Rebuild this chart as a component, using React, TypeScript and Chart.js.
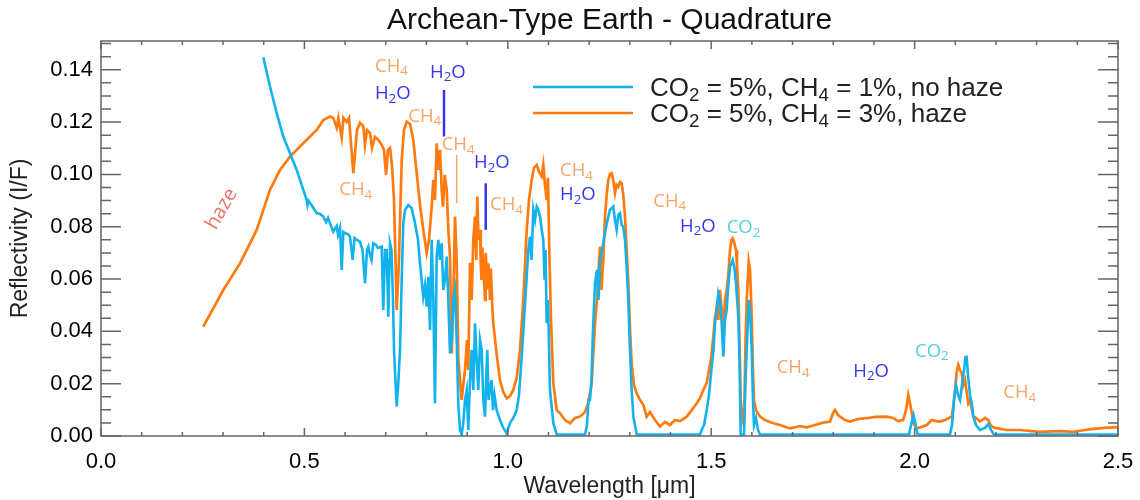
import React, { useEffect, useRef } from "react";
import { Chart, registerables } from "chart.js";

Chart.register(...registerables);

// ---------------- data ----------------
const seriesLabels = ["CO_2 = 5%, CH_4 = 1%, no haze", "CO_2 = 5%, CH_4 = 3%, haze"];

const noHazeWavelength = [
  0.399, 0.4154, 0.4319, 0.4481, 0.4646, 0.4811, 0.4973, 0.5057, 0.5076, 0.5101,
  0.5187, 0.5302, 0.5383, 0.5465, 0.5531, 0.5581, 0.5629, 0.571, 0.5794, 0.5826,
  0.5875, 0.5917, 0.5958, 0.5998, 0.6072, 0.6121, 0.6187, 0.6232, 0.6286, 0.6367,
  0.6429, 0.649, 0.6539, 0.6571, 0.6613, 0.665, 0.6694, 0.676, 0.6809, 0.69,
  0.6939, 0.6981, 0.7023, 0.7062, 0.7092, 0.7104, 0.7141, 0.7178, 0.7203, 0.7269,
  0.7313, 0.735, 0.7392, 0.7431, 0.7473, 0.7554, 0.7638, 0.7719, 0.7793, 0.7842,
  0.7923, 0.7965, 0.8006, 0.8046, 0.8088, 0.8129, 0.8169, 0.821, 0.8252, 0.8292,
  0.8333, 0.8375, 0.8414, 0.8456, 0.8498, 0.8538, 0.8579, 0.8621, 0.8661, 0.8702,
  0.8744, 0.8783, 0.8825, 0.8867, 0.8906, 0.8948, 0.899, 0.9029, 0.9071, 0.9112,
  0.9152, 0.9194, 0.9235, 0.9275, 0.9317, 0.9358, 0.9398, 0.944, 0.9476, 0.9496,
  0.9526, 0.9562, 0.9599, 0.9636, 0.9673, 0.9727, 0.9808, 0.9889, 0.9973, 1.0054,
  1.0135, 1.0219, 1.0275, 1.0342, 1.0398, 1.0465, 1.0505, 1.0546, 1.0583, 1.0627,
  1.0669, 1.0711, 1.0751, 1.0792, 1.0833, 1.0873, 1.0903, 1.0927, 1.0956, 1.0988,
  1.1037, 1.1119, 1.1202, 1.1898, 1.1947, 1.1984, 1.2021, 1.2058, 1.2094, 1.2144,
  1.2193, 1.223, 1.2267, 1.2316, 1.2389, 1.2451, 1.2512, 1.2593, 1.2635, 1.2676,
  1.2716, 1.2758, 1.28, 1.2839, 1.2881, 1.2922, 1.2963, 1.3004, 1.3045, 1.3086,
  1.3169, 1.4725, 1.4766, 1.4823, 1.489, 1.4946, 1.5012, 1.5057, 1.5093, 1.5135,
  1.5175, 1.5216, 1.5253, 1.5298, 1.5339, 1.5381, 1.5421, 1.5462, 1.5528, 1.5572,
  1.561, 1.5666, 1.5696, 1.5725, 1.5806, 1.5844, 1.5873, 1.5922, 1.5954, 1.5996,
  1.6027, 1.6052, 1.6101, 1.615, 1.6199, 1.9862, 1.9912, 1.9975, 2.0025, 2.0074,
  2.087, 2.0919, 2.0968, 2.1017, 2.1066, 2.1116, 2.1165, 2.1214, 2.1251, 2.128,
  2.1312, 2.1362, 2.1411, 2.1443, 2.151, 2.1608, 2.1731, 2.1812, 2.1878, 2.1952,
  2.5,
];
const noHazeReflectivity = [
  0.1448, 0.1336, 0.1234, 0.1145, 0.1081, 0.1017, 0.0941, 0.0902, 0.0883, 0.0899,
  0.088, 0.0852, 0.0849, 0.0839, 0.0818, 0.0834, 0.0813, 0.0781, 0.0803, 0.0769,
  0.0795, 0.0635, 0.078, 0.0775, 0.0772, 0.0762, 0.0673, 0.0757, 0.075, 0.0742,
  0.0711, 0.0584, 0.0711, 0.0724, 0.0692, 0.0673, 0.0737, 0.073, 0.0719, 0.0724,
  0.0482, 0.0711, 0.0711, 0.0456, 0.0673, 0.0737, 0.0711, 0.052, 0.0329, 0.0112,
  0.0214, 0.0329, 0.0597, 0.0813, 0.0864, 0.0883, 0.0871, 0.0813, 0.075, 0.066,
  0.0533, 0.0577, 0.0494, 0.0609, 0.0405, 0.075, 0.052, 0.0125, 0.0686, 0.075,
  0.0673, 0.0737, 0.0558, 0.0597, 0.0686, 0.052, 0.0316, 0.0367, 0.052, 0.0558,
  0.0367, 0.0125, 0.0023, 0.0006, 0.0049, 0.0138, 0.0176, 0.0023, 0.0214, 0.0329,
  0.0176, 0.0431, 0.0291, 0.0176, 0.0367, 0.0329, 0.0138, 0.0074, 0.0252, 0.0329,
  0.0138, 0.0176, 0.0214, 0.0099, 0.0157, 0.0099, 0.0061, 0.0031, 0.0011, 0.0049,
  0.0069, 0.0099, 0.0157, 0.0303, 0.0444, 0.0609, 0.0711, 0.0762, 0.0673, 0.0864,
  0.0826, 0.0877, 0.0864, 0.0839, 0.0788, 0.075, 0.0597, 0.0711, 0.0431, 0.052,
  0.0176, 0.0049, 0.0006, 0.0006, 0.0042, 0.0138, 0.0138, 0.0214, 0.0405, 0.0584,
  0.0635, 0.052, 0.0673, 0.0711, 0.0775, 0.0826, 0.0864, 0.0877, 0.0826, 0.0788,
  0.0845, 0.0852, 0.0807, 0.08, 0.075, 0.0647, 0.052, 0.0329, 0.0176, 0.0074,
  0.0006, 0.0006, 0.0023, 0.0042, 0.0099, 0.0157, 0.0265, 0.0329, 0.0431, 0.0482,
  0.0546, 0.052, 0.0444, 0.0303, 0.0444, 0.0482, 0.0577, 0.0647, 0.0673, 0.0642,
  0.0584, 0.0456, 0.0291, 0.0006, 0.0006, 0.0214, 0.0329, 0.052, 0.0482, 0.0329,
  0.0138, 0.0042, 0.0069, 0.0023, 0.0006, 0.0006, 0.0042, 0.008, 0.0042, 0.0006,
  0.0006, 0.0042, 0.0138, 0.0195, 0.0157, 0.0138, 0.0195, 0.0252, 0.0302, 0.0303,
  0.0233, 0.0157, 0.0119, 0.0074, 0.0042, 0.0023, 0.0031, 0.0046, 0.0023, 0.0006,
  0.0006,
];

const hazeWavelength = [
  0.2515, 0.3006, 0.3417, 0.3827, 0.4154, 0.44, 0.4646, 0.4973, 0.5302, 0.5465,
  0.5629, 0.571, 0.5794, 0.5834, 0.5917, 0.5958, 0.604, 0.6096, 0.6202, 0.6293,
  0.6367, 0.6448, 0.649, 0.6539, 0.6613, 0.6662, 0.6736, 0.6817, 0.69, 0.6957,
  0.7006, 0.7055, 0.7104, 0.7153, 0.7203, 0.7269, 0.7325, 0.7392, 0.7448, 0.7515,
  0.7596, 0.7677, 0.776, 0.7842, 0.7923, 0.8006, 0.8063, 0.8129, 0.8169, 0.821,
  0.8252, 0.8292, 0.8333, 0.8375, 0.8407, 0.8449, 0.8498, 0.8538, 0.8579, 0.8621,
  0.8661, 0.8702, 0.8744, 0.8783, 0.8825, 0.8867, 0.8906, 0.8948, 0.8997, 0.9029,
  0.9071, 0.9112, 0.9152, 0.9194, 0.9226, 0.925, 0.928, 0.9317, 0.9335, 0.9353, 0.9375, 0.9398,
  0.942, 0.944, 0.9458, 0.9476, 0.9498, 0.9521, 0.954, 0.9562, 0.9583, 0.9604, 0.9623, 0.9643, 0.9727, 0.9808, 0.9889, 0.9973,
  1.0054, 1.0135, 1.0219, 1.03, 1.0381, 1.0465, 1.0521, 1.0588, 1.0644, 1.0711,
  1.0767, 1.0833, 1.0873, 1.0914, 1.0956, 1.0988, 1.1025, 1.1062, 1.1119, 1.1202,
  1.1283, 1.1406, 1.1529, 1.1652, 1.1775, 1.1898, 1.1972, 1.2062, 1.2094, 1.2144,
  1.2193, 1.223, 1.2267, 1.2303, 1.2348, 1.2389, 1.2431, 1.2471, 1.2512, 1.2554,
  1.2593, 1.2635, 1.2676, 1.2716, 1.2758, 1.28, 1.2839, 1.2881, 1.2922, 1.2963,
  1.3004, 1.3045, 1.3102, 1.3169, 1.325, 1.3331, 1.3414, 1.3496, 1.3618, 1.3741,
  1.3864, 1.3987, 1.411, 1.4233, 1.4398, 1.4521, 1.4644, 1.4725, 1.4806, 1.489,
  1.4946, 1.4995, 1.5052, 1.5093, 1.5135, 1.5175, 1.5216, 1.5258, 1.5298, 1.5339,
  1.5381, 1.5421, 1.5462, 1.5499, 1.5528, 1.5561, 1.561, 1.5634, 1.5666, 1.5696,
  1.5725, 1.5757, 1.579, 1.5819, 1.5844, 1.5873, 1.5922, 1.5954, 1.5996, 1.6027,
  1.6052, 1.6101, 1.6199, 1.6322, 1.6527, 1.6691, 1.6937, 1.7183, 1.7347, 1.7552,
  1.7724, 1.792, 1.7994, 1.8043, 1.8117, 1.8166, 1.8289, 1.8412, 1.8609, 1.8822,
  1.9026, 1.9314, 1.9469, 1.9592, 1.9715, 1.9789, 1.9845, 1.9904, 1.9971, 2.0054,
  2.016, 2.0298, 2.0421, 2.0527, 2.0624, 2.0747, 2.0912, 2.0956, 2.0993, 2.1035,
  2.1074, 2.1116, 2.1158, 2.1197, 2.1239, 2.128, 2.1321, 2.1362, 2.1443, 2.151,
  2.1608, 2.1731, 2.1812, 2.1878, 2.1976, 2.2264, 2.2591, 2.3083, 2.3574, 2.3901,
  2.4189, 2.4393, 2.468, 2.4885, 2.5,
];
const hazeReflectivity = [
  0.0418, 0.0558, 0.066, 0.0788, 0.0941, 0.1017, 0.1068, 0.1119, 0.117, 0.1208,
  0.1221, 0.1216, 0.1178, 0.1216, 0.114, 0.1216, 0.1201, 0.1216, 0.1005, 0.117,
  0.1197, 0.1185, 0.1113, 0.117, 0.1159, 0.1101, 0.1143, 0.1132, 0.1113, 0.1094,
  0.0998, 0.1094, 0.1101, 0.1036, 0.0902, 0.0482, 0.0673, 0.1055, 0.117, 0.1202,
  0.1193, 0.1132, 0.1005, 0.0883, 0.0788, 0.0699, 0.075, 0.0877, 0.0979, 0.0902,
  0.1119, 0.1017, 0.1094, 0.0941, 0.0877, 0.0998, 0.0941, 0.0788, 0.0686, 0.0316,
  0.052, 0.0839, 0.0673, 0.0303, 0.0214, 0.0138, 0.0195, 0.0252, 0.0367, 0.0252,
  0.0662, 0.052, 0.075, 0.0839, 0.0673, 0.0915, 0.075, 0.0788, 0.066, 0.0597, 0.072, 0.0647,
  0.058, 0.052, 0.07, 0.0635, 0.056, 0.066, 0.061, 0.052, 0.064, 0.0558, 0.048, 0.0431, 0.031, 0.0214, 0.0168, 0.0144,
  0.0153, 0.0176, 0.0222, 0.0329, 0.052, 0.0788, 0.0902, 0.0979, 0.1025, 0.1036,
  0.101, 0.0992, 0.1036, 0.096, 0.0902, 0.0987, 0.0673, 0.0444, 0.0202, 0.0099,
  0.0087, 0.0061, 0.0049, 0.0069, 0.0074, 0.0092, 0.0122, 0.0202, 0.0291, 0.0431,
  0.052, 0.0635, 0.0724, 0.0558, 0.0673, 0.0839, 0.0922, 0.0979, 0.1002, 0.1005,
  0.0979, 0.0928, 0.096, 0.0953, 0.0971, 0.0966, 0.0922, 0.0839, 0.0711, 0.0584,
  0.0405, 0.0278, 0.0195, 0.0163, 0.0138, 0.0119, 0.0074, 0.0092, 0.0061, 0.0036,
  0.0054, 0.0042, 0.0061, 0.0057, 0.0074, 0.0099, 0.0125, 0.0145, 0.0176, 0.0202,
  0.0252, 0.0291, 0.038, 0.0451, 0.0494, 0.0444, 0.0558, 0.0482, 0.038, 0.052,
  0.0558, 0.0616, 0.0711, 0.075, 0.0756, 0.0742, 0.0711, 0.0654, 0.0558, 0.0367,
  0.0138, 0.0069, 0.0049, 0.0138, 0.0367, 0.052, 0.0667, 0.0635, 0.0456, 0.0252,
  0.0138, 0.0099, 0.0074, 0.0061, 0.0049, 0.0042, 0.0029, 0.0038, 0.0033, 0.0042,
  0.005, 0.0055, 0.0088, 0.0099, 0.008, 0.0074, 0.0061, 0.0055, 0.0065, 0.0068,
  0.0073, 0.0074, 0.0069, 0.0057, 0.0061, 0.0099, 0.0157, 0.0112, 0.0049, 0.0029,
  0.0034, 0.0042, 0.0061, 0.0057, 0.0055, 0.0061, 0.0074, 0.0119, 0.0176, 0.0245,
  0.0272, 0.0252, 0.024, 0.0195, 0.0214, 0.0168, 0.0125, 0.0138, 0.0074, 0.0069,
  0.0055, 0.0069, 0.0061, 0.0038, 0.0031, 0.0023, 0.0023, 0.0016, 0.0019, 0.0016,
  0.0023, 0.0027, 0.0031, 0.0033, 0.0034,
];

const xTickValues = [0, 0.5, 1.0, 1.5, 2.0, 2.5];
const yTickValues = [0, 0.02, 0.04, 0.06, 0.08, 0.1, 0.12, 0.14];

const titleText = "Archean-Type Earth - Quadrature";
const xTitle = "Wavelength [μm]";
const yTitle = "Reflectivity (I/F)";

// molecule labels (wavelength, reflectivity at text baseline-left)
const labelTexts = ["CH_4", "H_2O", "H_2O", "CH_4", "CH_4", "H_2O", "CH_4", "CH_4", "CH_4", "H_2O", "CH_4", "H_2O", "CO_2", "CH_4", "H_2O", "CO_2", "CH_4"];
const labelKinds = ["ch4", "h2o", "h2o", "ch4", "ch4", "h2o", "ch4", "ch4", "ch4", "h2o", "ch4", "h2o", "co2", "ch4", "h2o", "co2", "ch4"];
const labelX = [0.6735, 0.6735, 0.8088, 0.7554, 0.8375, 0.9169, 0.9562, 0.5858, 1.1283, 1.1283, 1.3577, 1.4233, 1.5381, 1.661, 1.8493, 2.001, 2.218];
const labelY = [0.1393, 0.1288, 0.137, 0.1202, 0.1094, 0.1024, 0.0864, 0.0922, 0.0994, 0.0902, 0.0877, 0.0781, 0.0775, 0.024, 0.0227, 0.0303, 0.0144];

// band marker ticks: wavelength, top and bottom reflectivity
const markerKinds = ["h2o", "ch4", "h2o"];
const markerX = [0.8432, 0.8744, 0.9457];
const markerTop = [0.1323, 0.1075, 0.0966];
const markerBottom = [0.1145, 0.089, 0.0788];

const hazeLabel = "haze";
const hazeLabelAt = [0.2967, 0.0868];

// ---------------- styles ----------------
const CYAN = "#12b2ee";
const ORANGE = "#ff7b10";
const KIND_COLORS: Record<string, string> = {
  ch4: "#f8a466",
  h2o: "#3535f0",
  co2: "#52d0d6",
};
const HAZE_COLOR = "#ea7560";
const AXIS_COLOR = "#666666";
const FONT = "'Liberation Sans', Arial, Helvetica, sans-serif";
const ANNOT_FONT = "'Open Sans', 'Noto Sans', sans-serif";

type Seg = { t: string; sub: boolean };
function parseSub(text: string): Seg[] {
  const segs: Seg[] = [];
  let buf = "";
  for (let i = 0; i < text.length; i++) {
    if (text[i] === "_" && i + 1 < text.length) {
      if (buf) {
        segs.push({ t: buf, sub: false });
        buf = "";
      }
      segs.push({ t: text[i + 1], sub: true });
      i++;
    } else {
      buf += text[i];
    }
  }
  if (buf) segs.push({ t: buf, sub: false });
  return segs;
}

function drawRich(ctx: CanvasRenderingContext2D, text: string, x: number, y: number, size: number, family: string, color: string) {
  ctx.save();
  ctx.fillStyle = color;
  ctx.textAlign = "left";
  ctx.textBaseline = "alphabetic";
  let cx = x;
  for (const s of parseSub(text)) {
    const fs = s.sub ? size * 0.72 : size;
    ctx.font = `${fs}px ${family}`;
    ctx.fillText(s.t, cx, s.sub ? y + size * 0.2 : y);
    cx += ctx.measureText(s.t).width;
  }
  ctx.restore();
  return cx - x;
}

const framePlugin = {
  id: "idlFrame",
  afterDatasetsDraw(chart: any) {
    const { ctx, chartArea: a, scales } = chart;
    const xs = scales.x;
    const ys = scales.y;
    ctx.save();

    // box
    ctx.strokeStyle = AXIS_COLOR;
    ctx.lineWidth = 1.5;
    ctx.strokeRect(a.left, a.top, a.right - a.left, a.bottom - a.top);

    // inward ticks
    ctx.beginPath();
    for (let i = 0; i <= 25; i++) {
      const px = xs.getPixelForValue(i / 10);
      const len = i % 5 === 0 ? 8 : 4;
      ctx.moveTo(px, a.bottom);
      ctx.lineTo(px, a.bottom - len);
      ctx.moveTo(px, a.top);
      ctx.lineTo(px, a.top + len);
    }
    for (let i = 0; i * 0.005 <= ys.max + 1e-9; i++) {
      const py = ys.getPixelForValue(i * 0.005);
      const len = i % 4 === 0 ? 20 : 10;
      ctx.moveTo(a.left, py);
      ctx.lineTo(a.left + len, py);
      ctx.moveTo(a.right, py);
      ctx.lineTo(a.right - len, py);
    }
    ctx.stroke();

    // title
    ctx.fillStyle = "#111";
    ctx.font = `30px ${FONT}`;
    ctx.textAlign = "center";
    ctx.textBaseline = "middle";
    ctx.fillText(titleText, (a.left + a.right) / 2, 21);

    // band markers
    for (let i = 0; i < markerX.length; i++) {
      ctx.beginPath();
      ctx.strokeStyle = KIND_COLORS[markerKinds[i]];
      ctx.lineWidth = markerKinds[i] === "h2o" ? 2.5 : 1.5;
      const px = xs.getPixelForValue(markerX[i]);
      ctx.moveTo(px, ys.getPixelForValue(markerTop[i]));
      ctx.lineTo(px, ys.getPixelForValue(markerBottom[i]));
      ctx.stroke();
    }

    // molecule labels
    for (let i = 0; i < labelTexts.length; i++) {
      drawRich(ctx, labelTexts[i], xs.getPixelForValue(labelX[i]), ys.getPixelForValue(labelY[i]), 18.5, ANNOT_FONT, KIND_COLORS[labelKinds[i]]);
    }

    // haze label
    ctx.save();
    ctx.translate(xs.getPixelForValue(hazeLabelAt[0]), ys.getPixelForValue(hazeLabelAt[1]));
    ctx.rotate(-Math.PI / 3);
    ctx.fillStyle = HAZE_COLOR;
    ctx.font = `20px ${ANNOT_FONT}`;
    ctx.textAlign = "center";
    ctx.textBaseline = "middle";
    ctx.fillText(hazeLabel, 0, 0);
    ctx.restore();

    // legend
    const colors = [CYAN, ORANGE];
    for (let i = 0; i < seriesLabels.length; i++) {
      const ly = 87 + i * 26;
      ctx.beginPath();
      ctx.strokeStyle = colors[i];
      ctx.lineWidth = 2.4;
      ctx.moveTo(533, ly);
      ctx.lineTo(633, ly);
      ctx.stroke();
      drawRich(ctx, seriesLabels[i], 650, ly + 8.5, 26, FONT, "#222");
    }

    ctx.restore();
  },
};

export default function App() {
  const canvasRef = useRef<HTMLCanvasElement | null>(null);

  useEffect(() => {
    const canvas = canvasRef.current;
    if (!canvas) return;
    const noHazePoints = noHazeWavelength.map((x, i) => ({ x, y: noHazeReflectivity[i] }));
    const hazePoints = hazeWavelength.map((x, i) => ({ x, y: hazeReflectivity[i] }));

    const hiddenGrid = {
      display: true,
      drawOnChartArea: false,
      drawTicks: true,
      color: "rgba(0,0,0,0)",
    };

    const chart = new Chart(canvas, {
      type: "line",
      data: {
        datasets: [
          {
            label: seriesLabels[0],
            data: noHazePoints,
            borderColor: CYAN,
            borderWidth: 2.6,
            pointRadius: 0,
            tension: 0,
            fill: false,
          },
          {
            label: seriesLabels[1],
            data: hazePoints,
            borderColor: ORANGE,
            borderWidth: 2.7,
            pointRadius: 0,
            tension: 0,
            fill: false,
          },
        ],
      },
      options: {
        animation: false,
        responsive: false,
        maintainAspectRatio: false,
        layout: { autoPadding: false, padding: { top: 41, right: 22, left: 0, bottom: 0 } },
        plugins: {
          legend: { display: false },
          title: { display: false },
          tooltip: { enabled: false },
        },
        scales: {
          x: {
            type: "linear",
            min: 0,
            max: 2.5,
            grid: { ...hiddenGrid, tickLength: 13 },
            border: { display: false },
            afterBuildTicks: (s: any) => {
              s.ticks = xTickValues.map((v) => ({ value: v }));
            },
            afterFit: (s: any) => {
              s.height = 64;
            },
            ticks: {
              autoSkip: false,
              maxRotation: 0,
              padding: 0,
              color: "#000",
              font: { family: FONT, size: 22 },
              callback: (v: any) => Number(v).toFixed(1),
            },
            title: {
              display: true,
              text: xTitle,
              color: "#222",
              font: { family: FONT, size: 23 },
              padding: { top: 0, bottom: 0 },
            },
          },
          y: {
            type: "linear",
            min: 0,
            max: 0.151,
            grid: { ...hiddenGrid, tickLength: 8 },
            border: { display: false },
            afterBuildTicks: (s: any) => {
              s.ticks = yTickValues.map((v) => ({ value: v }));
            },
            afterFit: (s: any) => {
              s.width = 101;
            },
            ticks: {
              autoSkip: false,
              padding: 0,
              color: "#000",
              font: { family: FONT, size: 22 },
              callback: (v: any) => Number(v).toFixed(2),
            },
            title: {
              display: true,
              text: yTitle,
              color: "#222",
              font: { family: FONT, size: 23 },
              padding: { top: 7, bottom: 0 },
            },
          },
        },
      },
      plugins: [framePlugin],
    });

    return () => chart.destroy();
  }, []);

  return (
    <div style={{ position: "absolute", left: 0, top: 0, width: 1140, height: 500, background: "#fff" }}>
      <canvas ref={canvasRef} width={1140} height={500} style={{ display: "block", width: 1140, height: 500 }} />
    </div>
  );
}
